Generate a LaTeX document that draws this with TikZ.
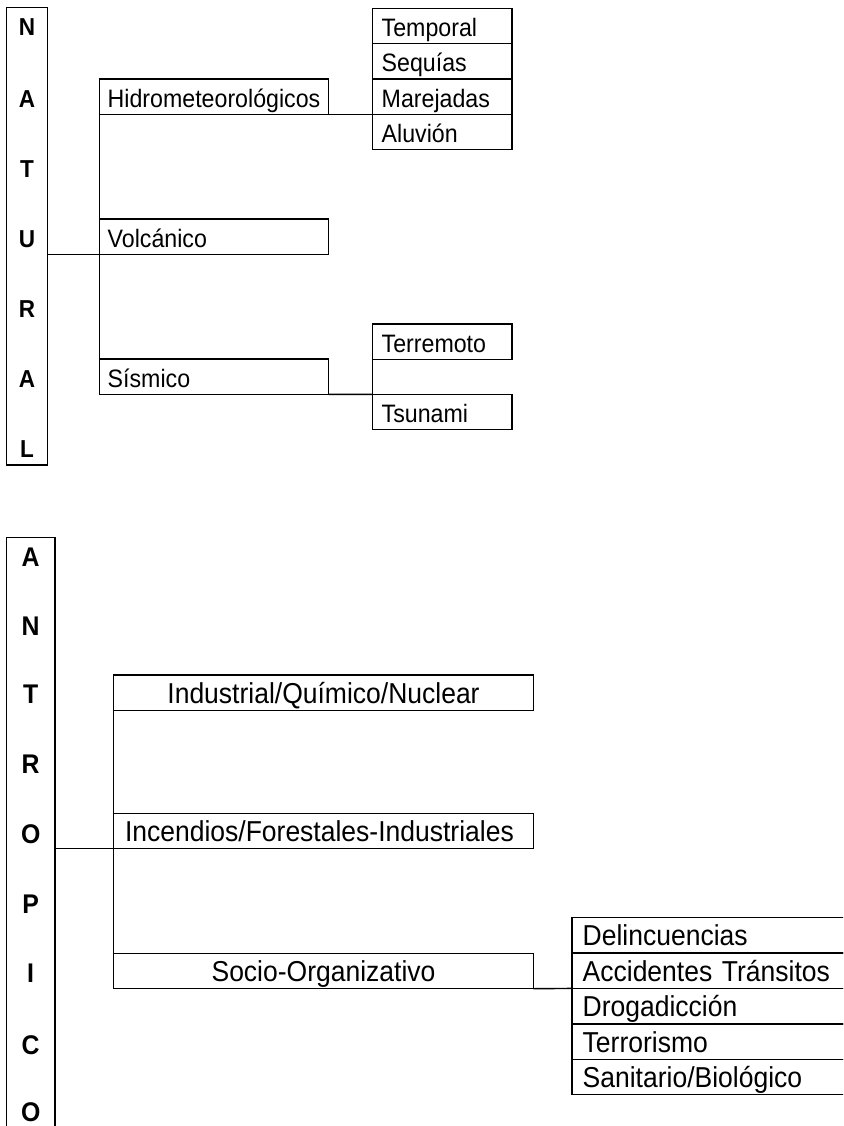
\documentclass[tikz,border=0pt]{standalone}
\usepackage{fontspec}
\newfontfamily\dfont[FakeStretch=0.92]{Liberation Sans}
\begin{document}
\begin{tikzpicture}[x=1pt,y=-1pt,
  ln/.style={line width=1.4pt},
  base/.style={draw, ln, anchor=north west, outer sep=0pt, inner ysep=0pt, text height=21pt, text depth=0pt},
  topbox/.style={base, minimum height=35.3pt, font=\dfont\fontsize{25.2}{27}\selectfont},
  botbox/.style={base, minimum height=35.4pt, font=\dfont\fontsize{28.8}{30}\selectfont},
  colbox/.style={draw, ln, anchor=north west, outer sep=0pt, inner sep=0pt},
  toplet/.style={anchor=center, inner sep=0pt, font=\dfont\bfseries\fontsize{24.5}{26}\selectfont},
  botlet/.style={anchor=center, inner sep=0pt, font=\dfont\bfseries\fontsize{27}{29}\selectfont}
]
\path[use as bounding box, clip] (0,0) rectangle (843,1126);
\fill[white] (0,0) rectangle (843,1126);

% ---------------- NATURAL ----------------
\node[colbox, minimum width=41.2pt, minimum height=457.3pt] (nat) at (6.5,7.7) {};
\node[toplet] (n1) at (27,27) {N};
\node[toplet] (n2) at (27,98.7) {A};
\node[toplet] (n3) at (27,168.7) {T};
\node[toplet] (n4) at (27,238.7) {U};
\node[toplet] (n5) at (27,308.7) {R};
\node[toplet] (n6) at (27,378.7) {A};
\node[toplet] (n7) at (27,448.7) {L};

\tikzset{tl/.style={topbox, inner xsep=8.4pt, text width=212.6pt, align=left}}
\node[tl] (hid) at (99.3,79) {Hidrometeorológicos};
\node[tl] (vol) at (99.3,219) {Volcánico};
\node[tl] (sis) at (99.3,359) {Sísmico};

\tikzset{tr/.style={topbox, inner xsep=9.4pt, text width=120.9pt, align=left}}
\node[tr] (tem) at (372.3,8.4) {Temporal};
\node[tr] (seq) at (372.3,43.7) {Sequías};
\node[tr] (mar) at (372.3,79.0) {Marejadas};
\node[tr] (alu) at (372.3,114.3) {Aluvión};
\node[tr] (ter) at (372.3,324) {Terremoto};
\node[tr] (tsu) at (372.3,394.3) {Tsunami};

\draw[ln] (nat.east |- vol.south west) -- (vol.south west);
\draw[ln] (hid.south west) -- (sis.north west);
\draw[ln] (hid.south east) -- (mar.south west);
\draw[ln] (sis.south east) -- (tsu.north west);
\draw[ln] (ter.south west) -- (tsu.north west);

% ---------------- ANTROPICO ----------------
\node[colbox, minimum width=48.3pt, minimum height=620pt] (ant) at (6.7,537.7) {};
\node[botlet] (a1) at (30.7,557.3) {A};
\node[botlet] (a2) at (30.7,625.8) {N};
\node[botlet] (a3) at (30.7,694) {T};
\node[botlet] (a4) at (30.7,763.8) {R};
\node[botlet] (a5) at (30.7,833.7) {O};
\node[botlet] (a6) at (30.7,903.8) {P};
\node[botlet] (a7) at (30.7,973.3) {I};
\node[botlet] (a8) at (30.7,1044.8) {C};
\node[botlet] (a9) at (30.7,1112.5) {O};

\node[botbox, inner xsep=9pt, text width=401.6pt, align=center] (ind) at (113.7,675) {Industrial/Químico/Nuclear};
\node[botbox, inner xsep=11.3pt, text width=397pt, align=left] (inc) at (113.7,813.3) {Incendios/Forestales-Industriales};
\node[botbox, inner xsep=9pt, text width=401.6pt, align=center] (soc) at (113.7,953.3) {Socio-Organizativo};

\tikzset{br/.style={botbox, inner xsep=10.7pt, text width=268.6pt, align=left}}
\node[br] (del) at (572,917.6) {Delincuencias};
\node[br] (acc) at (572,953.0) {Accidentes Tránsitos};
\node[br] (dro) at (572,988.4) {Drogadicción};
\node[br] (tro) at (572,1023.8) {Terrorismo};
\node[br] (san) at (572,1059.2) {Sanitario/Biológico};

\draw[ln] (ant.east |- inc.south west) -- (inc.south west);
\draw[ln] (ind.south west) -- (soc.north west);
\draw[ln] (soc.south east) -- (acc.south west);
\end{tikzpicture}
\end{document}
